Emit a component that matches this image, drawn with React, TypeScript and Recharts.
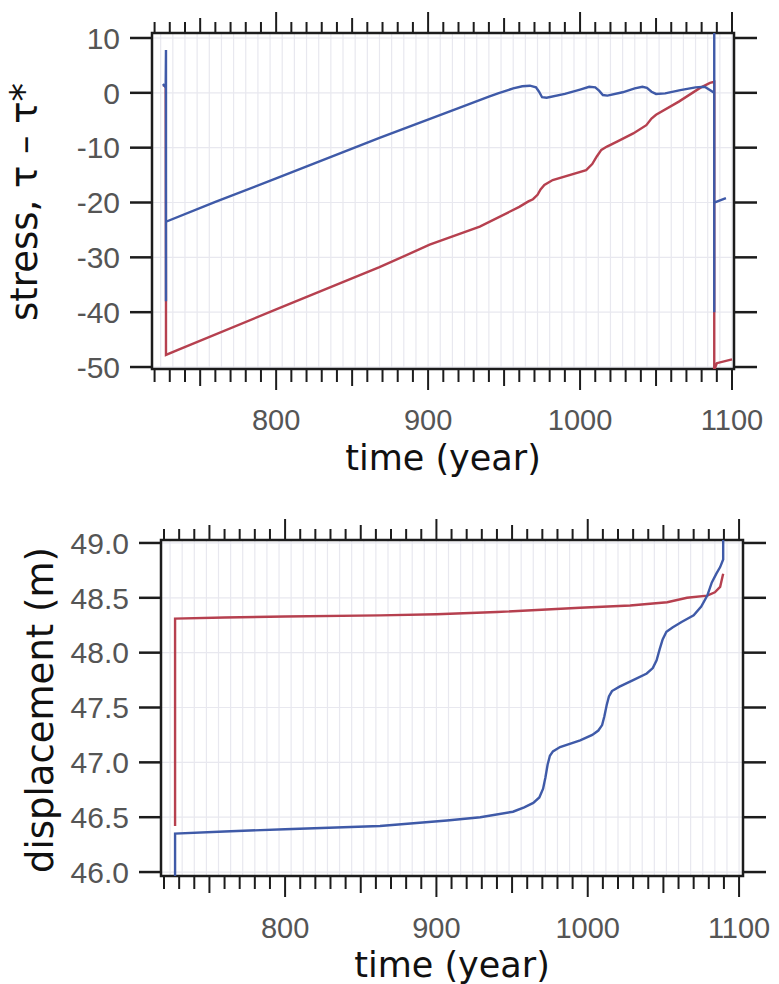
import React from 'react';
import { LineChart, Line, XAxis, YAxis, CartesianGrid, ReferenceArea } from 'recharts';

// tick values
const timeTicks = [
  720, 730, 740, 750, 760, 770, 780, 790, 800, 810, 820, 830, 840, 850, 860, 870, 880, 890, 900,
  910, 920, 930, 940, 950, 960, 970, 980, 990, 1000, 1010, 1020, 1030, 1040, 1050, 1060, 1070,
  1080, 1090, 1100,
];
const stressTicks = [-50, -40, -30, -20, -10, 0, 10];
const dispTicks = [46.0, 46.5, 47.0, 47.5, 48.0, 48.5, 49.0];

// top panel: stress
const blueStressT = [
  725.5, 727.3, 727.5, 727.5, 727.5, 760, 800, 868, 920, 940, 946, 956, 962, 967, 971, 973, 975,
  978, 990, 1000, 1006, 1010, 1012.5, 1015, 1018, 1028, 1036, 1041, 1044, 1047, 1050, 1056, 1066,
  1076, 1082, 1088.3, 1088.3, 1088.3, 1088.3, 1096,
];
const blueStressV = [
  1.6, 1.0, 7.8, -38, -23.5, -19.9, -15.6, -8.2, -2.8, -0.7, -0.1, 0.8, 1.2, 1.3, 1.0, 0.2, -0.8,
  -0.9, -0.2, 0.6, 1.1, 1.0, 0.4, -0.4, -0.5, 0.1, 0.8, 1.1, 0.9, 0.2, -0.2, -0.1, 0.5, 1.0, 1.1,
  0.0, 11.5, -40, -20, -19.2,
];
const redStressT = [
  725.5, 727.3, 727.5, 727.5, 735, 800, 868, 901, 934, 960, 966, 969, 972, 974, 976.5, 982, 1004,
  1008, 1011, 1014, 1017.7, 1025, 1035, 1043.6, 1047, 1050, 1065, 1079, 1085.5, 1088.3, 1088.3,
  1090, 1100,
];
const redStressV = [
  1.4, 1.2, -37, -47.8, -46.9, -39.5, -31.8, -27.7, -24.4, -20.8, -19.8, -19.4, -18.6, -17.6,
  -16.8, -15.9, -14.1, -13.0, -11.6, -10.4, -9.8, -8.8, -7.4, -5.9, -4.7, -4.0, -1.6, 0.9, 1.8,
  2.0, -50.5, -49.3, -48.6,
];

// bottom panel: displacement
const blueDispT = [
  727.3, 727.3, 760, 800, 862.7, 907, 929, 950.6, 958, 964, 968, 970.5, 972, 973.5, 975, 977,
  981.7, 995, 1003, 1007, 1009.5, 1011, 1012.5, 1014, 1016, 1021, 1030, 1039, 1043, 1045.5,
  1047.5, 1049.5, 1052, 1056, 1062, 1070, 1075, 1079, 1082, 1085, 1087.5, 1089.5, 1089.5,
];
const blueDispV = [
  45.9, 46.35, 46.37, 46.39, 46.42, 46.47, 46.5, 46.55, 46.59, 46.63, 46.68, 46.76, 46.86, 46.98,
  47.06, 47.1, 47.14, 47.2, 47.25, 47.29, 47.34, 47.42, 47.52, 47.6, 47.65, 47.69, 47.75, 47.81,
  47.86, 47.93, 48.03, 48.12, 48.19, 48.23, 48.28, 48.34, 48.42, 48.52, 48.64, 48.72, 48.78,
  48.85, 49.2,
];
const redDispT = [
  727.3, 727.3, 760, 800, 862.7, 900, 940, 995, 1028, 1052.5, 1065.6, 1079, 1084, 1087.5, 1089.5,
];
const redDispV = [
  46.42, 48.31, 48.32, 48.33, 48.34, 48.35, 48.37, 48.41, 48.43, 48.46, 48.5, 48.52, 48.55, 48.6,
  48.72,
];

const toPoints = (t: number[], v: number[]) => t.map((x, i) => ({ t: x, v: v[i] }));

const blueStress = toPoints(blueStressT, blueStressV);
const redStress = toPoints(redStressT, redStressV);
const blueDisp = toPoints(blueDispT, blueDispV);
const redDisp = toPoints(redDispT, redDispV);

const gridYears = Array.from({ length: 48 }, (_, i) => 724 + i * 8);

const PLOT_W = 582;
const PLOT_H = 336;
const INK = '#1c1c1c';
const TICK_FONT = '"Liberation Sans", Arial, sans-serif';
const TITLE_FONT = '"DejaVu Sans", Verdana, sans-serif';
const BLUE = '#3f5aa8';
const RED = '#b6404f';

function XTick(props: any) {
  const { x, y, payload, labelDy } = props;
  const v = payload.value;
  const major = v % 100 === 0;
  const mid = !major && v % 50 === 0;
  const down = major ? 21 : mid ? 17 : 13;
  const up = major ? 21 : mid ? 15 : 11;
  return (
    <g>
      <line x1={x} x2={x} y1={y} y2={y + down} stroke={INK} strokeWidth={2} />
      <line x1={x} x2={x} y1={y - PLOT_H} y2={y - PLOT_H - up} stroke={INK} strokeWidth={2} />
      {major && (
        <text x={x} y={y + labelDy} textAnchor="middle" fontFamily={TICK_FONT} fontSize={29} fill="#555">
          {v}
        </text>
      )}
    </g>
  );
}

function YTick(props: any) {
  const { x, y, payload, fmt } = props;
  return (
    <g>
      <line x1={x - 22} x2={x} y1={y} y2={y} stroke={INK} strokeWidth={2.5} />
      <line x1={x + PLOT_W} x2={x + PLOT_W + 23} y1={y} y2={y} stroke={INK} strokeWidth={2.5} />
      <text x={x - 32} y={y} dy="0.36em" textAnchor="end" fontFamily={TICK_FONT} fontSize={30} fill="#555">
        {fmt(payload.value)}
      </text>
    </g>
  );
}

function XTitle(props: any) {
  const { viewBox, dy } = props;
  return (
    <text
      x={viewBox.x + viewBox.width / 2}
      y={viewBox.y + dy}
      textAnchor="middle"
      fontFamily={TITLE_FONT}
      fontSize={35}
      fill="#111"
    >
      time (year)
    </text>
  );
}

function YTitle(props: any) {
  const { viewBox, text, bx, dyc } = props;
  const x = viewBox.x + bx;
  const y = viewBox.y + viewBox.height / 2 + dyc;
  return (
    <text x={x} y={y} transform={`rotate(-90, ${x}, ${y})`} textAnchor="middle" fontFamily={TITLE_FONT} fontSize={37} fill="#111">
      {text}
    </text>
  );
}

export default function App() {
  const stressX: [number, number] = [718.3, 1101.3];
  const stressY: [number, number] = [-50.36, 10.91];
  const dispX: [number, number] = [718.0, 1102.6];
  const dispY: [number, number] = [45.964, 49.027];

  return (
    <div style={{ position: 'absolute', left: 0, top: 0, width: 779, height: 984, background: '#fff' }}>
      <LineChart width={779} height={490} margin={{ top: 33, right: 45, bottom: 0, left: 0 }}>
        <CartesianGrid verticalValues={gridYears} horizontalValues={stressTicks} stroke="#e8e8ef" strokeWidth={1.2} />
        <XAxis
          type="number"
          dataKey="t"
          domain={stressX}
          allowDataOverflow
          ticks={timeTicks}
          interval={0}
          tickSize={0}
          tickMargin={0}
          axisLine={false}
          tickLine={false}
          height={121}
          tick={(p: any) => <XTick {...p} labelDy={61} />}
          label={{ content: (p: any) => <XTitle {...p} dy={101} /> }}
        />
        <YAxis
          type="number"
          domain={stressY}
          allowDataOverflow
          ticks={stressTicks}
          interval={0}
          tickSize={0}
          tickMargin={0}
          axisLine={false}
          tickLine={false}
          width={152}
          tick={(p: any) => <YTick {...p} fmt={(v: number) => String(v)} />}
          label={{ content: (p: any) => <YTitle {...p} text="stress, τ – τ*" bx={37} dyc={1} /> }}
        />
        <ReferenceArea
          x1={stressX[0]}
          x2={stressX[1]}
          y1={stressY[0]}
          y2={stressY[1]}
          ifOverflow="visible"
          fill="none"
          stroke={INK}
          strokeWidth={2.5}
        />
        <Line data={redStress} dataKey="v" type="linear" stroke={RED} strokeWidth={2.4} dot={false} activeDot={false} isAnimationActive={false} />
        <Line data={blueStress} dataKey="v" type="linear" stroke={BLUE} strokeWidth={2.4} dot={false} activeDot={false} isAnimationActive={false} />
      </LineChart>

      <div style={{ position: 'absolute', left: 0, top: 490 }}>
        <LineChart width={779} height={494} margin={{ top: 50, right: 36, bottom: 0, left: 0 }}>
          <CartesianGrid verticalValues={gridYears} horizontalValues={dispTicks} stroke="#e8e8ef" strokeWidth={1.2} />
          <XAxis
            type="number"
            dataKey="t"
            domain={dispX}
            allowDataOverflow
            ticks={timeTicks}
            interval={0}
            tickSize={0}
            tickMargin={0}
            axisLine={false}
            tickLine={false}
            height={108}
            tick={(p: any) => <XTick {...p} labelDy={62} />}
            label={{ content: (p: any) => <XTitle {...p} dy={101} /> }}
          />
          <YAxis
            type="number"
            domain={dispY}
            allowDataOverflow
            ticks={dispTicks}
            interval={0}
            tickSize={0}
            tickMargin={0}
            axisLine={false}
            tickLine={false}
            width={161}
            tick={(p: any) => <YTick {...p} fmt={(v: number) => v.toFixed(1)} />}
            label={{ content: (p: any) => <YTitle {...p} text="displacement (m)" bx={53} dyc={2} /> }}
          />
          <ReferenceArea
            x1={dispX[0]}
            x2={dispX[1]}
            y1={dispY[0]}
            y2={dispY[1]}
            ifOverflow="visible"
            fill="none"
            stroke={INK}
            strokeWidth={2.5}
          />
          <Line data={redDisp} dataKey="v" type="linear" stroke={RED} strokeWidth={2.4} dot={false} activeDot={false} isAnimationActive={false} />
          <Line data={blueDisp} dataKey="v" type="linear" stroke={BLUE} strokeWidth={2.4} dot={false} activeDot={false} isAnimationActive={false} />
        </LineChart>
      </div>
    </div>
  );
}
